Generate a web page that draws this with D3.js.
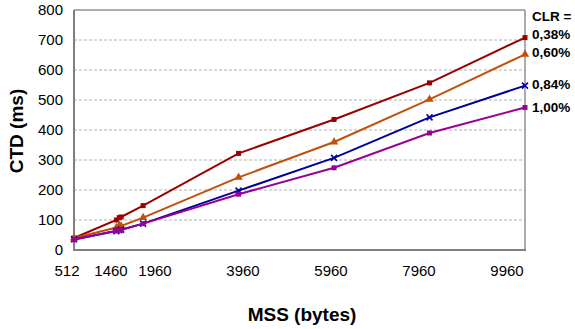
<!DOCTYPE html>
<html><head><meta charset="utf-8">
<script src="https://cdn.jsdelivr.net/npm/d3@7/dist/d3.min.js"></script>
<style>body{margin:0;background:#fff}svg{display:block;font-family:"Liberation Sans",Arial,sans-serif}</style>
</head><body><svg id="c" width="575" height="329"></svg>
<script>
const mss = [512, 1400, 1460, 1500, 1960, 3960, 5960, 7960, 9960];
const clr038 = [40, 100, 108, 110, 148, 322, 435, 557, 708];
const clr060 = [40, 75, 82, 80, 108, 242, 360, 502, 652];
const clr084 = [36, 63, 66, 68, 88, 198, 307, 442, 548];
const clr100 = [34, 64, 66, 67, 88, 186, 274, 390, 475];
const seriesNames = ["0,38%", "0,60%", "0,84%", "1,00%"];
const seriesColors = ["#990000", "#C0500A", "#000099", "#990099"];
const seriesMarkers = ["square", "triangle", "cross", "square"];
const yTicks = [0, 100, 200, 300, 400, 500, 600, 700, 800];
const xTickSlots = ["512", "1460", "1960", "", "3960", "", "5960", "", "7960", "", "9960"];
const legendTitle = "CLR =";

const series = [clr038, clr060, clr084, clr100];
const svg = d3.select("#c");
const L = 74, R = 525, T = 10, B = 250;
const x = d3.scaleLinear().domain([512, 9960]).range([L, R]);
const y = d3.scaleLinear().domain([0, 800]).range([B, T]);
const xLab = d3.scalePoint().domain(xTickSlots.map((d, i) => i)).range([67, 507]);

// grid
svg.append("g").selectAll("line").data(yTicks.filter(d => d > 0 && d < 800)).join("line")
  .attr("x1", L).attr("x2", R).attr("y1", d => y(d)).attr("y2", d => y(d))
  .attr("stroke", "#b0b0b0").attr("stroke-width", 1).attr("stroke-dasharray", "3,2");
// frame
svg.append("line").attr("x1", L).attr("x2", R).attr("y1", y(800)).attr("y2", y(800)).attr("stroke", "#909090").attr("stroke-width", 1.5);
svg.append("line").attr("x1", R).attr("x2", R).attr("y1", T).attr("y2", B).attr("stroke", "#909090").attr("stroke-width", 1.5);
svg.append("line").attr("x1", L).attr("x2", L).attr("y1", T).attr("y2", B + 1).attr("stroke", "#808080").attr("stroke-width", 2);
svg.append("line").attr("x1", L - 1).attr("x2", R + 1).attr("y1", B).attr("y2", B).attr("stroke", "#808080").attr("stroke-width", 2);

// y tick labels
svg.append("g").selectAll("text").data(yTicks).join("text")
  .attr("x", 63).attr("y", d => y(d)).attr("dy", "0.35em").attr("text-anchor", "end")
  .attr("font-size", 15).attr("fill", "#000").text(d => d);
// x tick labels
svg.append("g").selectAll("text").data(xTickSlots.map((t, i) => ({t, i})).filter(d => d.t)).join("text")
  .attr("x", d => xLab(d.i)).attr("y", 271).attr("dy", "0.35em").attr("text-anchor", "middle")
  .attr("font-size", 15).attr("fill", "#000").text(d => d.t);

// titles
svg.append("text").attr("transform", "translate(16,131) rotate(-90)").attr("text-anchor", "middle")
  .attr("dy", "0.35em").attr("font-size", 19).attr("font-weight", "bold").text("CTD (ms)");
svg.append("text").attr("x", 302).attr("y", 314).attr("text-anchor", "middle").attr("dy", "0.35em")
  .attr("font-size", 19).attr("font-weight", "bold").text("MSS (bytes)");

// lines
const line = d3.line().x((d, i) => x(mss[i])).y(d => y(d));
series.forEach((s, k) => {
  const g = svg.append("g");
  g.append("path").attr("d", line(s)).attr("fill", "none").attr("stroke", seriesColors[k]).attr("stroke-width", 2);
  const c = seriesColors[k];
  s.forEach((v, i) => {
    const px = x(mss[i]), py = y(v);
    if (seriesMarkers[k] === "square") {
      g.append("rect").attr("x", px - 2.5).attr("y", py - 2.5).attr("width", 5).attr("height", 5).attr("fill", c);
    } else if (seriesMarkers[k] === "triangle") {
      g.append("path").attr("d", d3.symbol(d3.symbolTriangle, 30)()).attr("transform", `translate(${px},${py})`).attr("fill", c);
    } else {
      g.append("path").attr("d", `M${px-3},${py-3}L${px+3},${py+3}M${px-3},${py+3}L${px+3},${py-3}`).attr("stroke", c).attr("stroke-width", 1.5);
    }
  });
});

// legend labels
svg.append("text").attr("x", 532).attr("y", 16).attr("dy", "0.35em").attr("font-size", 13.5).attr("font-weight", "bold").text(legendTitle);
series.forEach((s, k) => {
  svg.append("text").attr("x", 532).attr("y", y(s[s.length - 1]) - 3 + k).attr("dy", "0.35em")
    .attr("font-size", 13.5).attr("font-weight", "bold").text(seriesNames[k]);
});
</script></body></html>
